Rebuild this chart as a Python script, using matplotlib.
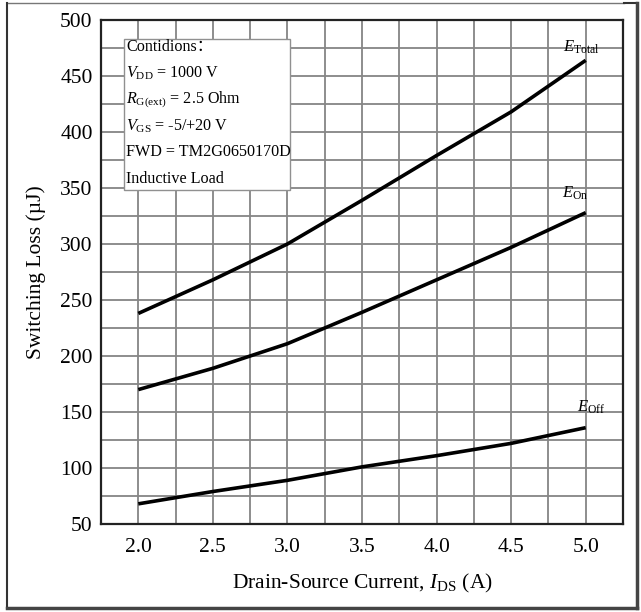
import numpy as np
import matplotlib.pyplot as plt
from matplotlib.lines import Line2D

plt.rcParams['font.family'] = ['Liberation Serif', 'Noto Sans CJK SC']
plt.rcParams['mathtext.fontset'] = 'custom'
plt.rcParams['mathtext.rm'] = 'Liberation Serif'
plt.rcParams['mathtext.it'] = 'Liberation Serif:italic'

# Switching loss vs drain-source current
i_ds = [2.0, 2.5, 3.0, 3.5, 4.0, 4.5, 5.0]
e_total = [238, 268, 300, 339, 379, 418, 464]
e_on = [170, 189, 211, 239, 268, 297, 328]
e_off = [68, 79, 89, 101, 111, 122, 136]

x_ticks = [2.0, 2.5, 3.0, 3.5, 4.0, 4.5, 5.0]
y_ticks = [50, 100, 150, 200, 250, 300, 350, 400, 450, 500]

conditions = ['Contidions\uff1a',
              r'$V_{\mathrm{DD}}$ = 1000 V',
              r'$R_{\mathrm{G(ext)}}$ = 2.5 Ohm',
              r'$V_{\mathrm{GS}}$ = -5/+20 V',
              'FWD = TM2G0650170D',
              'Inductive Load']

W, H, DPI = 641, 612, 100
fig = plt.figure(figsize=(W/DPI, H/DPI), dpi=DPI, facecolor='white')
ax = fig.add_axes([101/W, 1-524/H, 522/W, 504/H])

for y in (e_total, e_on, e_off):
    ax.plot(i_ds, y, color='black', lw=2.6, solid_capstyle='butt', zorder=3)

ax.set_xlim(1.75, 5.25)
ax.set_ylim(50, 500)
ax.set_xticks(x_ticks)
ax.set_xticklabels([f'{v:.1f}' for v in x_ticks])
ax.set_yticks(y_ticks)
ax.set_xticks(np.arange(1.75, 5.26, 0.25), minor=True)
ax.set_yticks(np.arange(50, 501, 25), minor=True)
ax.grid(which='both', color='#858585', lw=1.3)
ax.set_axisbelow(True)
ax.tick_params(which='both', length=0, labelsize=15.5)
ax.tick_params(axis='x', pad=10)
ax.tick_params(axis='y', pad=6)
for s in ax.spines.values():
    s.set_linewidth(1.6)
    s.set_color('#222222')

ax.set_xlabel(r'Drain-Source Current, $I_{\mathrm{DS}}$ (A)', fontsize=15.5, labelpad=11)
ax.set_ylabel('Switching Loss (\u00b5J)', fontsize=15.5, labelpad=10)

# curve names at the right end
ax.text(4.97, 476, r'$E_{\mathrm{Total}}$', fontsize=12, ha='center', va='center')
ax.text(4.93, 345, r'$E_{\mathrm{On}}$', fontsize=12, ha='center', va='center')
ax.text(5.04, 154, r'$E_{\mathrm{Off}}$', fontsize=12, ha='center', va='center')

# conditions box
box_x0, box_y0, box_x1, box_y1 = 124, 39, 290, 190
ax.add_patch(plt.Rectangle((box_x0/W, 1-box_y1/H), (box_x1-box_x0)/W, (box_y1-box_y0)/H,
                           transform=fig.transFigure, facecolor='white',
                           edgecolor='#909090', lw=1.0, zorder=4))
for k, line in enumerate(conditions):
    fig.text(126/W, 1-(47+26.3*k)/H, line, fontsize=11.6, ha='left', va='center', zorder=5)

# outer frame
fig.add_artist(Line2D([7/W, 624/W], [1-3/H, 1-3/H], color='#777777', lw=1.0))
fig.add_artist(Line2D([7/W, 7/W], [1-3/H, 1-608/H], color='#333333', lw=1.5))
fig.add_artist(Line2D([624/W, 637/W], [1-3/H, 1-3/H], color='#333333', lw=1.5))
fig.add_artist(Line2D([637/W, 637/W], [1-3/H, 1-608/H], color='#444444', lw=2.5))
fig.add_artist(Line2D([7/W, 637/W], [1-608/H, 1-608/H], color='#444444', lw=2.5))

plt.savefig('out.png', dpi=DPI)
